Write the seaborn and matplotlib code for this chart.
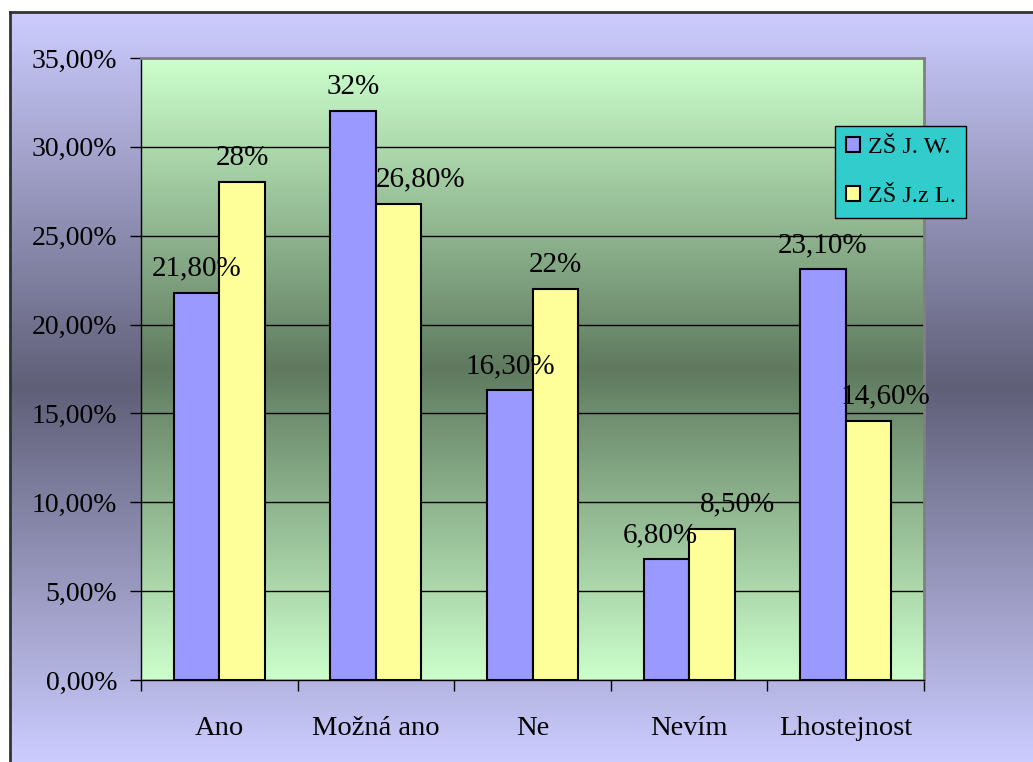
import numpy as np
import pandas as pd
import matplotlib
matplotlib.use('Agg')
import matplotlib.pyplot as plt
import seaborn as sns
from matplotlib.colors import LinearSegmentedColormap
from matplotlib.ticker import FuncFormatter, FixedLocator

# --- Data
kategorie = ['Ano', 'Možná ano', 'Ne', 'Nevím', 'Lhostejnost']
skoly = ['ZŠ J. W.', 'ZŠ J.z L.']
hodnoty_jw = [21.8, 32.0, 16.3, 6.8, 23.1]
hodnoty_jzl = [28.0, 26.8, 22.0, 8.5, 14.6]
popisky_jw = ['21,80%', '32%', '16,30%', '6,80%', '23,10%']
popisky_jzl = ['28%', '26,80%', '22%', '8,50%', '14,60%']

dados = pd.DataFrame({
    'kategorie': kategorie * 2,
    'skola': [skoly[0]] * 5 + [skoly[1]] * 5,
    'hodnota': hodnoty_jw + hodnoty_jzl,
})

sns.set_style('white')
plt.rcParams['font.family'] = ['Liberation Serif', 'DejaVu Serif']
plt.rcParams['text.color'] = 'black'
plt.rcParams['xtick.color'] = 'black'
plt.rcParams['ytick.color'] = 'black'

fig = plt.figure(figsize=(10.33, 7.62), dpi=100, facecolor='white')

# --- Outer gradient frame
bg = fig.add_axes([10 / 1033, 0, 1 - 10 / 1033, 1 - 12 / 762], zorder=-2)
cm_out = LinearSegmentedColormap.from_list('out', ['#CCCCFF', '#5F5F78', '#CCCCFF'])
bg.imshow(np.linspace(0, 1, 256).reshape(-1, 1), cmap=cm_out, aspect='auto',
          extent=(0, 1, 0, 1))
bg.set_xticks([])
bg.set_yticks([])
for s in ['right', 'bottom']:
    bg.spines[s].set_visible(False)
for s in ['top', 'left']:
    bg.spines[s].set_color('#333333')
    bg.spines[s].set_linewidth(2)

# --- Plot area
ax = fig.add_axes([141 / 1033, 82 / 762, 783 / 1033, 622 / 762])
cm_in = LinearSegmentedColormap.from_list('in', ['#CCFFCC', '#5F7A5F', '#CCFFCC'])
ax.imshow(np.linspace(0, 1, 256).reshape(-1, 1), cmap=cm_in, aspect='auto',
          extent=(-0.5, 4.5, 0, 35), zorder=0)

sns.barplot(data=dados, x='kategorie', y='hodnota', hue='skola',
            palette=['#9999FF', '#FFFF99'], width=0.58, edgecolor='black',
            linewidth=1.5, saturation=1, ax=ax, zorder=2)

# posun popisku doprava (Excel je posouva, aby se neprekryvaly)
posun = [[0, 0, 0, -6, 0], [0, 22, 0, 26, 17]]
for cont, popisky, dx in zip(ax.containers, [popisky_jw, popisky_jzl], posun):
    texty = ax.bar_label(cont, labels=popisky, padding=8, fontsize=21)
    for t, d in zip(texty, dx):
        t.xyann = (d * 0.72, t.xyann[1])

ax.set_xlim(-0.5, 4.5)
ax.set_ylim(0, 35)
ax.set_yticks(np.arange(0, 36, 5))
ax.yaxis.set_major_formatter(FuncFormatter(lambda v, p: f'{v:.2f}'.replace('.', ',') + '%'))
ax.yaxis.grid(True, color='black', linewidth=1, zorder=1)
ax.xaxis.grid(False)
ax.set_axisbelow(True)

ax.xaxis.set_minor_locator(FixedLocator(np.arange(-0.5, 5, 1)))
ax.tick_params(axis='x', which='major', length=0, pad=26, labelsize=20.5)
ax.tick_params(axis='x', which='minor', length=8, width=1, color='black', direction='out', bottom=True)
ax.tick_params(axis='y', length=8, width=1, color='black', direction='out', left=True, pad=9, labelsize=20)
ax.set_xlabel('')
ax.set_ylabel('')

for s in ['left', 'bottom']:
    ax.spines[s].set_color('black')
    ax.spines[s].set_linewidth(1)
for s in ['top', 'right']:
    ax.spines[s].set_color('#808080')
    ax.spines[s].set_linewidth(2)

handles, labels = ax.get_legend_handles_labels()
leg = ax.legend(handles, labels, loc='upper left', bbox_to_anchor=(0.886, 0.891),
                fontsize=17.5, frameon=True, fancybox=False, framealpha=1,
                facecolor='#33CCCC', edgecolor='black', handlelength=0.6,
                handleheight=0.6, handletextpad=0.3, labelspacing=1.15,
                borderpad=0.45, borderaxespad=0)
leg.get_frame().set_linewidth(1)
for h in leg.legend_handles:
    h.set_edgecolor('black')
    h.set_linewidth(1.5)

fig.savefig('out.png', dpi=100, facecolor='white')
